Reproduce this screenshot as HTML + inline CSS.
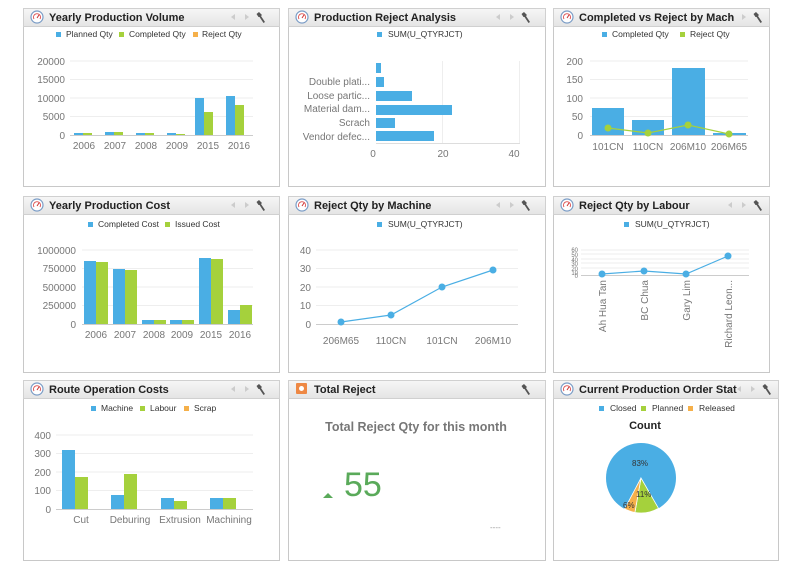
<!DOCTYPE html>
<html><head><meta charset="utf-8"><style>
html,body{margin:0;padding:0;background:#fff;width:800px;height:575px;overflow:hidden}
svg{display:block;font-family:"Liberation Sans",sans-serif}
.t{font-weight:bold;font-size:11px;fill:#222}
.l{font-size:8.5px;fill:#333}
.a{font-size:10px;fill:#777}
</style></head><body>
<svg width="800" height="575" viewBox="0 0 800 575" xmlns="http://www.w3.org/2000/svg">
<defs>
<linearGradient id="hg" x1="0" y1="0" x2="0" y2="1"><stop offset="0" stop-color="#f6f6f6"/><stop offset="1" stop-color="#e4e4e4"/></linearGradient>
<g id="ic"><circle r="6" fill="#fff" stroke="#7a9cc6" stroke-width="1.2"/><path d="M-3,2 A3.5,3.5 0 1 1 3,2" fill="none" stroke="#d55" stroke-width="1"/><line x1="0" y1="1" x2="2" y2="-2" stroke="#c33" stroke-width="1"/></g>
<g id="tools"><path d="M0,0 l-4,3 l4,3 z" fill="#ccc"/><path d="M10,0 l4,3 l-4,3 z" fill="#ccc"/><path d="M24,-2 l3,3 l-1,1 l4,6 l-1.5,1 l-4,-6 l-1,0 l-2,-3 z" fill="#555"/></g>
</defs>

<!-- Panels -->
<g stroke="#c8c8c8" fill="#fff">
<rect x="23.5" y="8.5" width="256" height="178"/>
<rect x="288.5" y="8.5" width="257" height="178"/>
<rect x="553.5" y="8.5" width="216" height="178"/>
<rect x="23.5" y="196.5" width="256" height="176"/>
<rect x="288.5" y="196.5" width="257" height="176"/>
<rect x="553.5" y="196.5" width="216" height="176"/>
<rect x="23.5" y="380.5" width="256" height="180"/>
<rect x="288.5" y="380.5" width="257" height="180"/>
<rect x="553.5" y="380.5" width="225" height="180"/>
</g>
<g stroke="#d0d0d0" fill="url(#hg)">
<rect x="23.5" y="8.5" width="256" height="18"/>
<rect x="288.5" y="8.5" width="257" height="18"/>
<rect x="553.5" y="8.5" width="216" height="18"/>
<rect x="23.5" y="196.5" width="256" height="18"/>
<rect x="288.5" y="196.5" width="257" height="18"/>
<rect x="553.5" y="196.5" width="216" height="18"/>
<rect x="23.5" y="380.5" width="256" height="18"/>
<rect x="288.5" y="380.5" width="257" height="18"/>
<rect x="553.5" y="380.5" width="225" height="18"/>
</g>
<use href="#ic" x="37" y="17"/><use href="#ic" x="302" y="17"/><use href="#ic" x="567" y="17"/>
<use href="#ic" x="37" y="205"/><use href="#ic" x="302" y="205"/><use href="#ic" x="567" y="205"/>
<use href="#ic" x="37" y="389"/><use href="#ic" x="567" y="389"/>
<rect x="296" y="383" width="11" height="11" fill="#ee8844" rx="1"/><circle cx="301.5" cy="388.5" r="2.5" fill="#fff"/>
<use href="#tools" x="235" y="14"/><use href="#tools" x="500" y="14"/><use href="#tools" x="732" y="14"/>
<use href="#tools" x="235" y="202"/><use href="#tools" x="500" y="202"/><use href="#tools" x="732" y="202"/>
<use href="#tools" x="235" y="386"/><use href="#tools" x="741" y="386"/>
<path d="M524,384 l3,3 l-1,1 l4,6 l-1.5,1 l-4,-6 l-1,0 l-2,-3 z" fill="#555"/>
<text class="t" x="49" y="21">Yearly Production Volume</text>
<text class="t" x="314" y="21">Production Reject Analysis</text>
<text class="t" x="579" y="21">Completed vs Reject by Mach</text>
<text class="t" x="49" y="209">Yearly Production Cost</text>
<text class="t" x="314" y="209">Reject Qty by Machine</text>
<text class="t" x="579" y="209">Reject Qty by Labour</text>
<text class="t" x="49" y="393">Route Operation Costs</text>
<text class="t" x="314" y="393">Total Reject</text>
<text class="t" x="579" y="393">Current Production Order Stat</text>

<!-- Panel 1 -->
<g class="l"><rect x="56" y="32" width="5" height="5" fill="#4aaee4"/><text x="66" y="37">Planned Qty</text>
<rect x="119" y="32" width="5" height="5" fill="#a5d13c"/><text x="129" y="37">Completed Qty</text>
<rect x="193" y="32" width="5" height="5" fill="#f5b04a"/><text x="202" y="37">Reject Qty</text></g>
<g stroke="#eee"><line x1="70" y1="61" x2="253" y2="61"/><line x1="70" y1="79.5" x2="253" y2="79.5"/><line x1="70" y1="98" x2="253" y2="98"/><line x1="70" y1="116.5" x2="253" y2="116.5"/></g>
<line x1="70" y1="135.5" x2="253" y2="135.5" stroke="#ccc"/>
<g class="a" text-anchor="end"><text x="65" y="65">20000</text><text x="65" y="83">15000</text><text x="65" y="102">10000</text><text x="65" y="120">5000</text><text x="65" y="139">0</text></g>
<g class="a" text-anchor="middle"><text x="84" y="149">2006</text><text x="115" y="149">2007</text><text x="146" y="149">2008</text><text x="177" y="149">2009</text><text x="208" y="149">2015</text><text x="239" y="149">2016</text></g>
<g fill="#4aaee4"><rect x="74" y="133" width="9" height="2"/><rect x="105" y="132" width="9" height="3"/><rect x="136" y="133" width="9" height="2"/><rect x="167" y="133" width="9" height="2"/><rect x="195" y="98" width="9" height="37"/><rect x="226" y="96" width="9" height="39"/></g>
<g fill="#a5d13c"><rect x="83" y="133" width="9" height="2"/><rect x="114" y="132" width="9" height="3"/><rect x="145" y="133" width="9" height="2"/><rect x="176" y="134" width="9" height="1"/><rect x="204" y="112" width="9" height="23"/><rect x="235" y="105" width="9" height="30"/></g>

<!-- Panel 2 -->
<g class="l"><rect x="377" y="32" width="5" height="5" fill="#4aaee4"/><text x="388" y="37">SUM(U_QTYRJCT)</text></g>
<g stroke="#eee"><line x1="442.5" y1="61" x2="442.5" y2="143"/><line x1="519.5" y1="61" x2="519.5" y2="143"/></g>
<line x1="376" y1="143.5" x2="520" y2="143.5" stroke="#ddd"/>
<g fill="#4aaee4"><rect x="376" y="63" width="5" height="10"/><rect x="376" y="77" width="8" height="10"/><rect x="376" y="91" width="36" height="10"/><rect x="376" y="105" width="76" height="10"/><rect x="376" y="118" width="19" height="10"/><rect x="376" y="131" width="58" height="10"/></g>
<g class="a" text-anchor="end"><text x="370" y="85">Double plati...</text><text x="370" y="99">Loose partic...</text><text x="370" y="112">Material dam...</text><text x="370" y="126">Scrach</text><text x="370" y="140">Vendor defec...</text></g>
<g class="a" text-anchor="middle"><text x="373" y="157">0</text><text x="443" y="157">20</text><text x="514" y="157">40</text></g>

<!-- Panel 3 -->
<g class="l"><rect x="602" y="32" width="5" height="5" fill="#4aaee4"/><text x="612" y="37">Completed Qty</text>
<rect x="680" y="32" width="5" height="5" fill="#a5d13c"/><text x="690" y="37">Reject Qty</text></g>
<g stroke="#eee"><line x1="590" y1="61" x2="748" y2="61"/><line x1="590" y1="79.5" x2="748" y2="79.5"/><line x1="590" y1="98" x2="748" y2="98"/><line x1="590" y1="116.5" x2="748" y2="116.5"/></g>
<line x1="590" y1="135.5" x2="748" y2="135.5" stroke="#ccc"/>
<g class="a" text-anchor="end"><text x="583" y="65">200</text><text x="583" y="83">150</text><text x="583" y="102">100</text><text x="583" y="120">50</text><text x="583" y="139">0</text></g>
<g fill="#4aaee4"><rect x="592" y="108" width="32" height="27"/><rect x="632" y="120" width="32" height="15"/><rect x="672" y="68" width="33" height="67"/><rect x="713" y="133" width="33" height="2"/></g>
<polyline points="608,128 648,133 688,125 729,134" fill="none" stroke="#a5d13c" stroke-width="1.2"/>
<g fill="#a5d13c"><circle cx="608" cy="128" r="3.5"/><circle cx="648" cy="133" r="3.5"/><circle cx="688" cy="125" r="3.5"/><circle cx="729" cy="134" r="3.5"/></g>
<g class="a" text-anchor="middle"><text x="608" y="150">101CN</text><text x="648" y="150">110CN</text><text x="688" y="150">206M10</text><text x="729" y="150">206M65</text></g>

<!-- Panel 4 -->
<g class="l"><rect x="88" y="222" width="5" height="5" fill="#4aaee4"/><text x="98" y="227">Completed Cost</text>
<rect x="165" y="222" width="5" height="5" fill="#a5d13c"/><text x="175" y="227">Issued Cost</text></g>
<g stroke="#eee"><line x1="82" y1="250" x2="253" y2="250"/><line x1="82" y1="268.5" x2="253" y2="268.5"/><line x1="82" y1="287" x2="253" y2="287"/><line x1="82" y1="305.5" x2="253" y2="305.5"/></g>
<line x1="82" y1="324.5" x2="253" y2="324.5" stroke="#ccc"/>
<g class="a" text-anchor="end"><text x="76" y="254">1000000</text><text x="76" y="272">750000</text><text x="76" y="291">500000</text><text x="76" y="309">250000</text><text x="76" y="328">0</text></g>
<g fill="#4aaee4"><rect x="84" y="261" width="12" height="63"/><rect x="113" y="269" width="12" height="55"/><rect x="142" y="320" width="12" height="4"/><rect x="170" y="320" width="12" height="4"/><rect x="199" y="258" width="12" height="66"/><rect x="228" y="310" width="12" height="14"/></g>
<g fill="#a5d13c"><rect x="96" y="262" width="12" height="62"/><rect x="125" y="270" width="12" height="54"/><rect x="154" y="320" width="12" height="4"/><rect x="182" y="320" width="12" height="4"/><rect x="211" y="259" width="12" height="65"/><rect x="240" y="305" width="12" height="19"/></g>
<g class="a" text-anchor="middle"><text x="96" y="338">2006</text><text x="125" y="338">2007</text><text x="154" y="338">2008</text><text x="182" y="338">2009</text><text x="211" y="338">2015</text><text x="240" y="338">2016</text></g>

<!-- Panel 5 -->
<g class="l"><rect x="377" y="222" width="5" height="5" fill="#4aaee4"/><text x="388" y="227">SUM(U_QTYRJCT)</text></g>
<g stroke="#eee"><line x1="316" y1="250" x2="518" y2="250"/><line x1="316" y1="268.5" x2="518" y2="268.5"/><line x1="316" y1="287" x2="518" y2="287"/><line x1="316" y1="305.5" x2="518" y2="305.5"/></g>
<line x1="316" y1="324.5" x2="518" y2="324.5" stroke="#ccc"/>
<g class="a" text-anchor="end"><text x="311" y="254">40</text><text x="311" y="272">30</text><text x="311" y="291">20</text><text x="311" y="309">10</text><text x="311" y="328">0</text></g>
<polyline points="341,322 391,315 442,287 493,270" fill="none" stroke="#4aaee4" stroke-width="1.2"/>
<g fill="#4aaee4"><circle cx="341" cy="322" r="3.5"/><circle cx="391" cy="315" r="3.5"/><circle cx="442" cy="287" r="3.5"/><circle cx="493" cy="270" r="3.5"/></g>
<g class="a" text-anchor="middle"><text x="341" y="344">206M65</text><text x="391" y="344">110CN</text><text x="442" y="344">101CN</text><text x="493" y="344">206M10</text></g>

<!-- Panel 6 -->
<g class="l"><rect x="624" y="222" width="5" height="5" fill="#4aaee4"/><text x="635" y="227">SUM(U_QTYRJCT)</text></g>
<g stroke="#eee"><line x1="581" y1="250" x2="749" y2="250"/><line x1="581" y1="254" x2="749" y2="254"/><line x1="581" y1="259" x2="749" y2="259"/><line x1="581" y1="263" x2="749" y2="263"/><line x1="581" y1="268" x2="749" y2="268"/></g>
<line x1="581" y1="275.5" x2="749" y2="275.5" stroke="#ccc"/>
<g font-size="6" fill="#777" text-anchor="end"><text x="578" y="252">60</text><text x="578" y="257">50</text><text x="578" y="262">40</text><text x="578" y="266">30</text><text x="578" y="271">20</text><text x="578" y="275">10</text><text x="578" y="278">0</text></g>
<polyline points="602,274 644,271 686,274 728,256" fill="none" stroke="#4aaee4" stroke-width="1.2"/>
<g fill="#4aaee4"><circle cx="602" cy="274" r="3.5"/><circle cx="644" cy="271" r="3.5"/><circle cx="686" cy="274" r="3.5"/><circle cx="728" cy="256" r="3.5"/></g>
<g class="a" text-anchor="end"><text transform="translate(606,280) rotate(-90)">Ah Hua Tan</text><text transform="translate(648,280) rotate(-90)">BC Chua</text><text transform="translate(690,280) rotate(-90)">Gary Lim</text><text transform="translate(732,280) rotate(-90)">Richard Leon...</text></g>

<!-- Panel 7 -->
<g class="l"><rect x="91" y="406" width="5" height="5" fill="#4aaee4"/><text x="101" y="411">Machine</text>
<rect x="140" y="406" width="5" height="5" fill="#a5d13c"/><text x="150" y="411">Labour</text>
<rect x="184" y="406" width="5" height="5" fill="#f5b04a"/><text x="194" y="411">Scrap</text></g>
<g stroke="#eee"><line x1="56" y1="435" x2="253" y2="435"/><line x1="56" y1="453.5" x2="253" y2="453.5"/><line x1="56" y1="472" x2="253" y2="472"/><line x1="56" y1="490.5" x2="253" y2="490.5"/></g>
<line x1="56" y1="509.5" x2="253" y2="509.5" stroke="#ccc"/>
<g class="a" text-anchor="end"><text x="51" y="439">400</text><text x="51" y="457">300</text><text x="51" y="476">200</text><text x="51" y="494">100</text><text x="51" y="513">0</text></g>
<g fill="#4aaee4"><rect x="62" y="450" width="13" height="59"/><rect x="111" y="495" width="13" height="14"/><rect x="161" y="498" width="13" height="11"/><rect x="210" y="498" width="13" height="11"/></g>
<g fill="#a5d13c"><rect x="75" y="477" width="13" height="32"/><rect x="124" y="474" width="13" height="35"/><rect x="174" y="501" width="13" height="8"/><rect x="223" y="498" width="13" height="11"/></g>
<g class="a" text-anchor="middle"><text x="81" y="523">Cut</text><text x="130" y="523">Deburing</text><text x="180" y="523">Extrusion</text><text x="229" y="523">Machining</text></g>

<!-- Panel 8 -->
<text x="416" y="431" text-anchor="middle" font-size="12.5" font-weight="bold" fill="#777">Total Reject Qty for this month</text>
<path d="M323,498 l5,-5 l5,5 z" fill="#5aaa5a"/>
<text x="344" y="496" font-size="34" fill="#5aaa5a">55</text>
<text x="490" y="530" font-size="8" fill="#999">----</text>

<!-- Panel 9 -->
<g class="l"><rect x="599" y="406" width="5" height="5" fill="#4aaee4"/><text x="610" y="411">Closed</text>
<rect x="641" y="406" width="5" height="5" fill="#a5d13c"/><text x="652" y="411">Planned</text>
<rect x="688" y="406" width="5" height="5" fill="#f5b04a"/><text x="699" y="411">Released</text></g>
<text x="645" y="429" text-anchor="middle" font-size="11" font-weight="bold" fill="#222">Count</text>
<g stroke="#fff" stroke-width="0.8">
<circle cx="641" cy="478" r="35" fill="#4aaee4" stroke="none"/>
<path d="M641,478 L658.5,508.3 A35,35 0 0 1 634.9,512.5 Z" fill="#a5d13c"/>
<path d="M641,478 L634.9,512.5 A35,35 0 0 1 624.6,508.9 Z" fill="#f5b04a"/>
</g>
<g font-size="8" fill="#333"><text x="632" y="466">83%</text><text x="636" y="497">11%</text><text x="623" y="508">6%</text></g>
</svg>
</body></html>
